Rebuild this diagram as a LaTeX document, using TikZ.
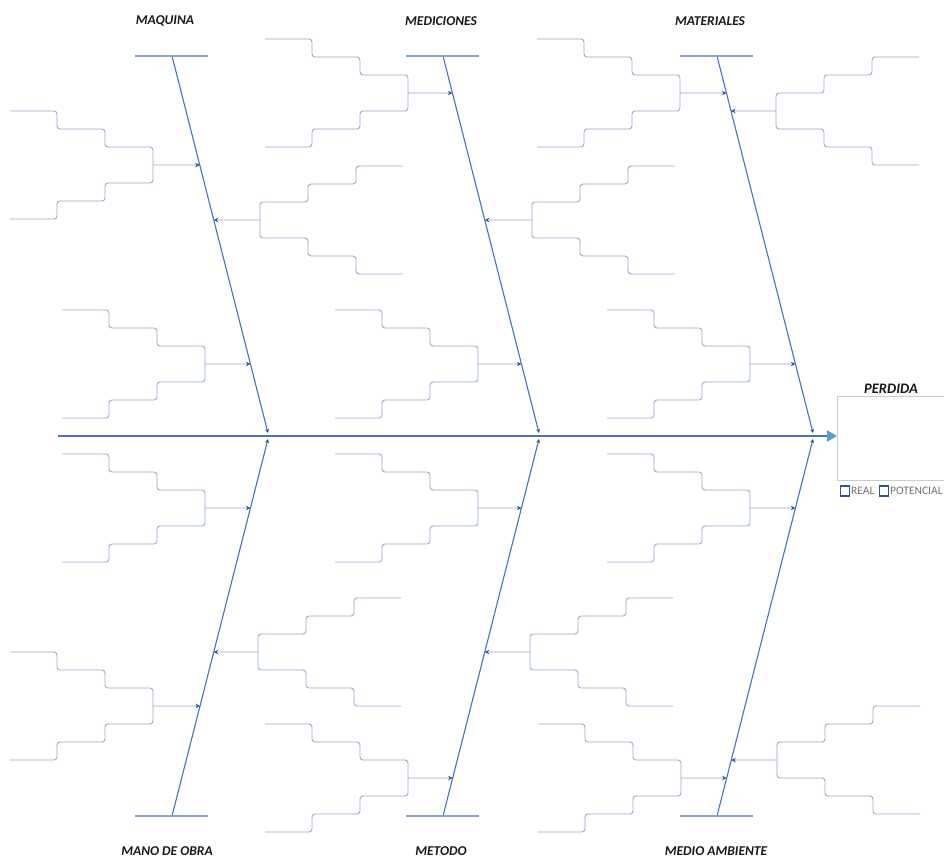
\documentclass[tikz,border=0pt]{standalone}
\usepackage{fontspec}
\setmainfont{Carlito}
\usetikzlibrary{calc,arrows.meta}
\definecolor{ribc}{RGB}{68,114,196}
\definecolor{twigc}{RGB}{150,172,208}
\definecolor{tipc}{RGB}{47,85,151}
\definecolor{spinec}{RGB}{82,110,205}
\definecolor{headc}{RGB}{91,155,213}
\definecolor{barc}{RGB}{140,165,205}
\definecolor{boxc}{RGB}{205,205,205}
\newcommand\twig[7]{%
  \pgfmathsetmacro\fr{abs(#6-#4)/377}
  \coordinate (t#1r) at ($(#2)!\fr!(#3)$);
  \coordinate (t#1b) at (#5,#6);
  \draw[stub] (t#1b) -- (t#1r);
  \draw[twig] ({#5+#7*143},{#6-54}) -- ({#5+#7*96},{#6-54}) -- ({#5+#7*96},{#6-36}) -- ({#5+#7*48},{#6-36}) -- ({#5+#7*48},{#6-18}) -- (#5,{#6-18}) -- (#5,{#6+18}) -- ({#5+#7*48},{#6+18}) -- ({#5+#7*48},{#6+36}) -- ({#5+#7*96},{#6+36}) -- ({#5+#7*96},{#6+54}) -- ({#5+#7*143},{#6+54});
}
\tikzset{
  rib/.style={draw=ribc, line width=1.1pt, -{Stealth[length=4pt,width=4pt,color=tipc]}},
  stub/.style={draw=twigc, line width=0.9pt, -{Stealth[length=4.5pt,width=4.5pt,color=tipc]}},
  twig/.style={draw=twigc, line width=0.9pt, rounded corners=3pt},
  bar/.style={draw=barc, line width=1.6pt},
  spine/.style={draw=spinec, line width=2.6pt, -{Triangle[length=10pt,width=11pt,color=headc]}},
  cat/.style={font=\bfseries\itshape\fontsize{13.5}{14}\selectfont, text=black!90, inner sep=0},
  chk/.style={draw=tipc, line width=1.1pt, minimum width=9pt, minimum height=10pt, inner sep=0, anchor=west},
  small/.style={font=\fontsize{11.5}{12}\selectfont, text=black!55, inner sep=0, anchor=west},
}
\begin{document}
\begin{tikzpicture}[x=1pt,y=-1pt]
\useasboundingbox (0,0) rectangle (944,859);
\clip (0,0) rectangle (944,859);
\fill[white] (0,0) rectangle (944,859);
% ribs
\coordinate (mqT) at (172,56); \coordinate (mqS) at (268,433);
\coordinate (meT) at (443,56); \coordinate (meS) at (539,433);
\coordinate (maT) at (717,56); \coordinate (maS) at (813,433);
\coordinate (moT) at (172,816); \coordinate (moS) at (268,439);
\coordinate (mtT) at (443,816); \coordinate (mtS) at (539,439);
\coordinate (mdT) at (717,816); \coordinate (mdS) at (813,439);
\foreach \r in {mq,me,ma,mo,mt,md}{\draw[rib] (\r T) -- (\r S);}
\foreach \r in {mq,me,ma}{\draw[bar] ($(\r T)+(-37,0)$) -- ($(\r T)+(36,0)$);}
\foreach \r in {mo,mt,md}{\draw[bar] ($(\r T)+(-37,0)$) -- ($(\r T)+(36,0)$);}
% spine
\coordinate (sp0) at (58,436);
\coordinate (sp1) at (837,436);
\draw[spine] (sp0) -- (sp1);
% branches
\twig{a}{mqT}{mqS}{56}{153}{165}{-1}
\twig{b}{mqT}{mqS}{56}{260}{220}{1}
\twig{c}{mqT}{mqS}{56}{205}{364}{-1}
\twig{d}{meT}{meS}{56}{408}{93}{-1}
\twig{e}{meT}{meS}{56}{532}{220}{1}
\twig{f}{meT}{meS}{56}{478}{364}{-1}
\twig{g}{maT}{maS}{56}{680}{93}{-1}
\twig{h}{maT}{maS}{56}{776}{111}{1}
\twig{i}{maT}{maS}{56}{750}{364}{-1}
\twig{j}{moT}{moS}{816}{205}{508}{-1}
\twig{k}{moT}{moS}{816}{258}{652}{1}
\twig{l}{moT}{moS}{816}{153}{706}{-1}
\twig{m}{mtT}{mtS}{816}{478}{508}{-1}
\twig{n}{mtT}{mtS}{816}{530}{652}{1}
\twig{o}{mtT}{mtS}{816}{408}{778}{-1}
\twig{p}{mdT}{mdS}{816}{750}{508}{-1}
\twig{q}{mdT}{mdS}{816}{777}{760}{1}
\twig{r}{mdT}{mdS}{816}{681}{778}{-1}
% labels
\node[cat] (lmq) at (165,21) {MAQUINA};
\node[cat] (lme) at (441,21) {MEDICIONES};
\node[cat] (lma) at (710,21) {MATERIALES};
\node[cat] (lmo) at (167,851) {MANO DE OBRA};
\node[cat] (lmt) at (441,851) {METODO};
\node[cat] (lmd) at (716,851) {MEDIO AMBIENTE};
% effect box
\node[draw=boxc, line width=0.7pt, minimum width=120pt, minimum height=84pt, inner sep=0, anchor=north west] (box) at (837,396) {};
\node[cat, font=\bfseries\itshape\fontsize{14.5}{15}\selectfont] (perd) at (891,389) {PERDIDA};
\node[chk] (cb1) at (840,491) {};
\node[small] (real) at (851,491) {REAL};
\node[chk] (cb2) at (879,491) {};
\node[small] (pot) at (890,491) {POTENCIAL};
\end{tikzpicture}
\end{document}
